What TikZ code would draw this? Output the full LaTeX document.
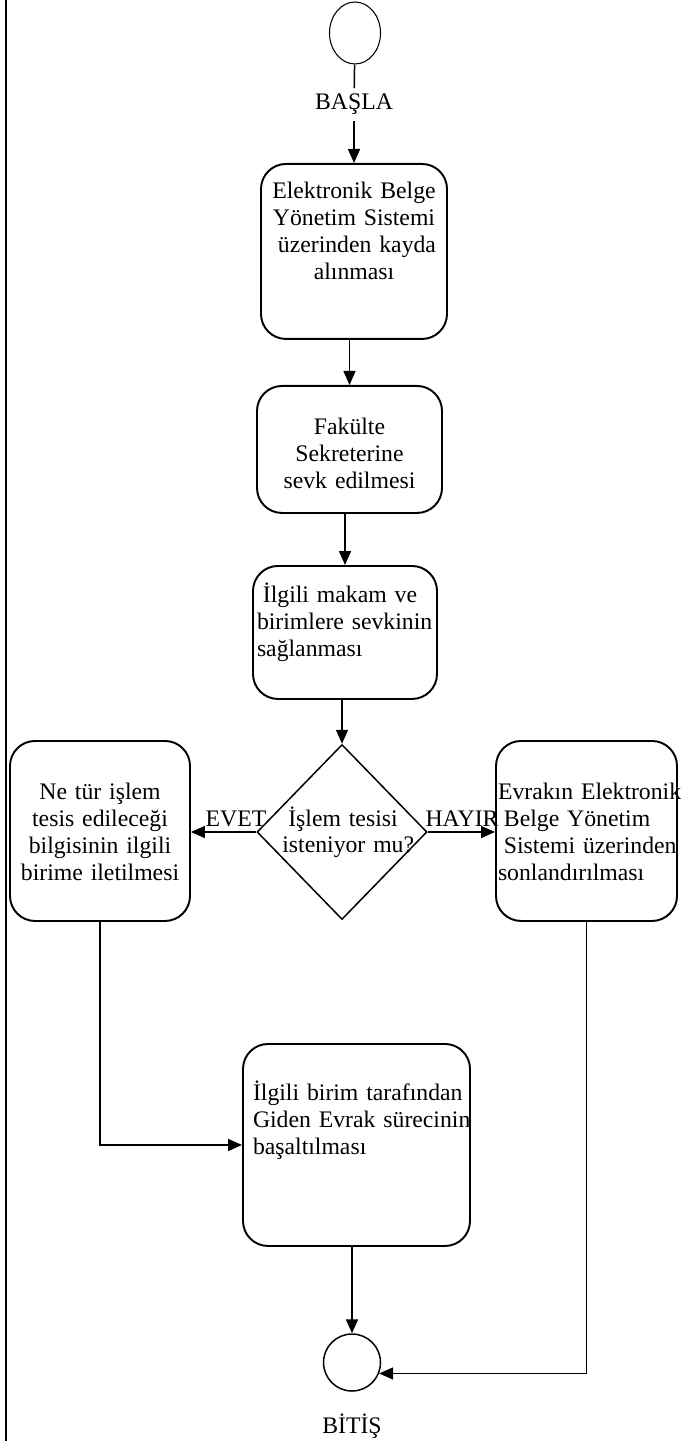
\documentclass[tikz,border=0pt]{standalone}
\usepackage{fontspec}
\setmainfont{Liberation Serif}
\usetikzlibrary{arrows.meta,shapes.geometric}
\hyphenpenalty=10000
\exhyphenpenalty=10000

\begin{document}
\begin{tikzpicture}[
    yazi/.style={font=\fontsize{13.5}{15.3}\selectfont},
    kutu/.style={yazi,draw,line width=1.1pt,rounded corners=0.5cm,inner ysep=0pt,anchor=north},
    ok/.style={line width=0.85pt,-{Triangle[length=0.28cm,width=0.24cm]}}]

    \useasboundingbox (0,0) rectangle (13.62,-28.82);
    \draw[line width=1.1pt] (0.12,0) -- (0.12,-28.82);

    % baslangic
    \node[draw,ellipse,line width=0.6pt,minimum width=1.02cm,minimum height=1.24cm,inner sep=0pt] (basla) at (7.10,-0.66) {};
    \node[yazi,anchor=base] (baslayazi) at (7.08,-2.20) {BAŞLA};

    \node[kutu,text width=3.72cm,inner xsep=0pt,align=center,text height=0.70cm,text depth=2.80cm] (kayit) at (7.08,-3.26)
        {Elektronik~Belge\\Yönetim~Sistemi\\\hspace*{0.25em}üzerinden~kayda\\alınması};
    \node[kutu,text width=3.70cm,inner xsep=0pt,align=center,text height=0.98cm,text depth=1.56cm] (sevk) at (6.99,-7.70)
        {Fakülte\\Sekreterine\\sevk edilmesi};
    \node[kutu,text width=3.52cm,inner xsep=0.08cm,align=left,text height=0.74cm,text depth=1.92cm] (makam) at (6.90,-11.30)
        {\hspace*{0.25em}İlgili makam ve\\birimlere~sevkinin\\sağlanması};

    % karar
    \node[draw,diamond,line width=0.85pt,minimum width=3.40cm,minimum height=3.50cm,inner sep=0pt] (karar) at (6.84,-16.64) {};
    \node[yazi,text width=3cm,align=left,inner sep=0pt,anchor=base west] (soru) at (5.64,-16.52)
        {\hspace*{0.25em}İşlem tesisi\\isteniyor~mu?};
    \node[yazi,anchor=base,inner sep=0pt] (evet) at (4.72,-16.52) {EVET};
    \node[yazi,anchor=base,inner sep=0pt] (hayir) at (9.24,-16.52) {HAYIR};

    \node[kutu,text width=3.60cm,inner xsep=0pt,align=center,text height=1.18cm,text depth=2.42cm] (sol) at (2.00,-14.80)
        {Ne tür işlem\\tesis~edileceği\\bilgisinin~ilgili\\birime~iletilmesi};
    \node[kutu,text width=3.54cm,inner xsep=0.04cm,align=left,text height=1.18cm,text depth=2.42cm] (sag) at (11.73,-14.80)
        {Evrakın~Elektronik\\\hspace*{0.25em}Belge~Yönetim\\\hspace*{0.25em}Sistemi~üzerinden\\sonlandırılması};

    \node[kutu,text width=4.14cm,inner xsep=0.2cm,align=left,text height=1.14cm,text depth=2.90cm] (giden) at (7.13,-20.86)
        {İlgili~birim~tarafından\\Giden~Evrak~sürecinin\\başaltılması};

    % bitis
    \node[draw,circle,line width=0.85pt,minimum size=1.14cm,inner sep=0pt] (bitis) at (7.04,-27.25) {};
    \node[yazi,anchor=base] (bitisyazi) at (7.04,-28.66) {BİTİŞ};

    \draw[line width=0.85pt] (basla) -- (baslayazi);
    \draw[ok] (baslayazi) -- (kayit);
    \draw[ok] (sevk.north |- kayit.south) -- (sevk.north);
    \draw[ok] (makam.north |- sevk.south) -- (makam.north);
    \draw[ok] (karar.north |- makam.south) -- (karar.north);
    \draw[ok] (karar.west) -- (karar.west -| sol.east);
    \draw[ok] (karar.east) -- (karar.east -| sag.west);
    \draw[ok] (sol.south) |- (giden.west);
    \draw[ok] (bitis.north |- giden.south) -- (bitis.north);
    \draw[ok] (sag.south) |- (bitis.-22);

\end{tikzpicture}
\end{document}
